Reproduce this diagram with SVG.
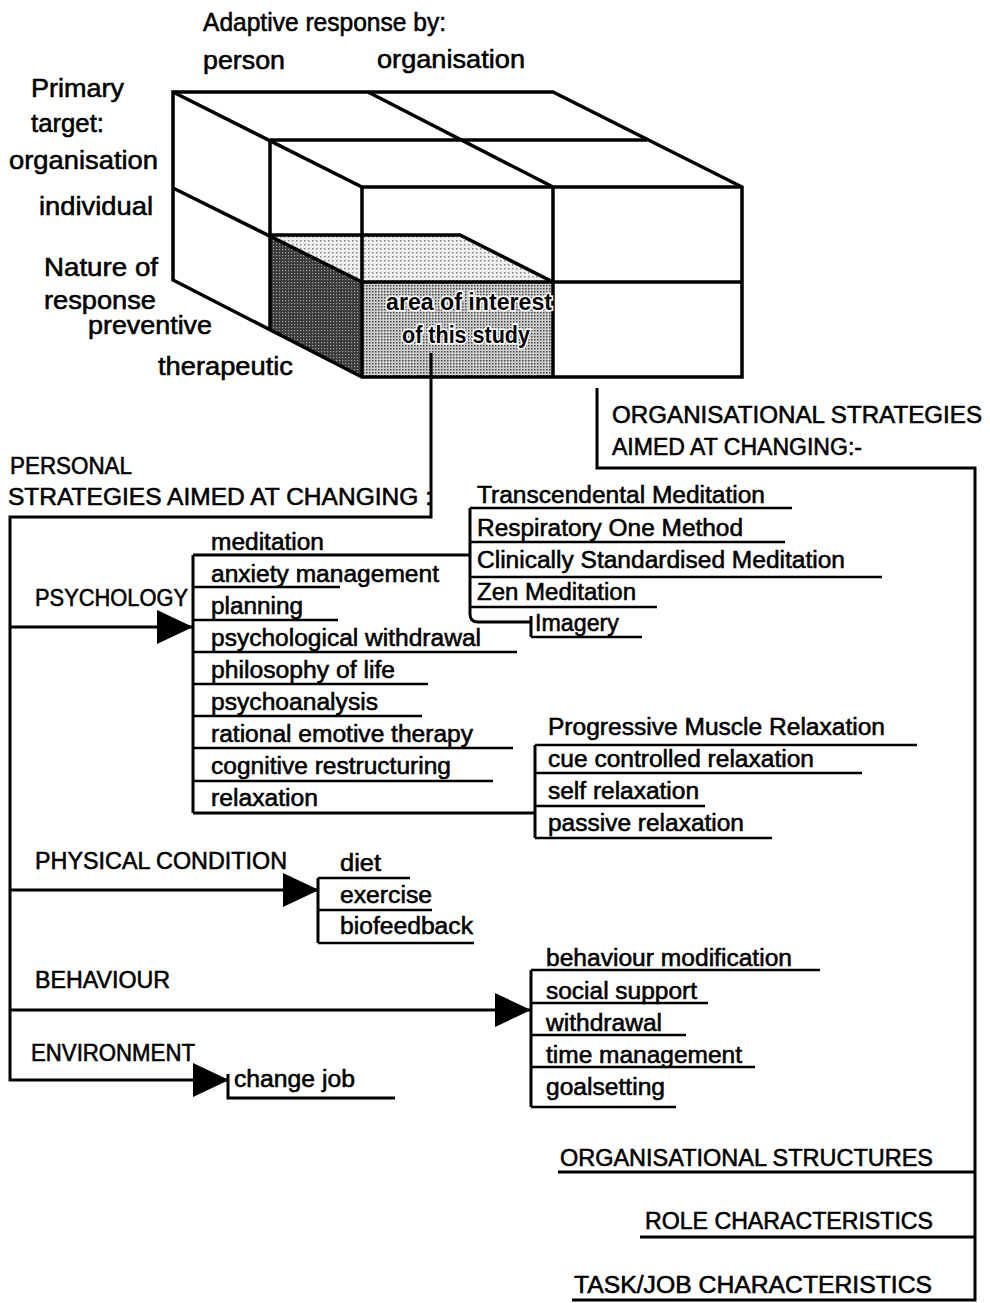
<svg xmlns="http://www.w3.org/2000/svg" width="990" height="1303" viewBox="0 0 990 1303">
  <style>
    text { font-family: "Liberation Sans", Arial, sans-serif; fill: #000; stroke: #000; stroke-width: 0.55; }
    .big { font-size: 25px; }
    .t { font-size: 23px; }
    .cap { font-size: 23px; }
    .edge { fill: none; stroke: #000; stroke-width: 3.5; stroke-linejoin: miter; }
    .ln { fill: none; stroke: #000; stroke-width: 3; }
    .ul { fill: none; stroke: #000; stroke-width: 2.6; }
    .halo { stroke: #fff; stroke-width: 3; paint-order: stroke; font-weight: bold; }
  </style>
  <defs>
    <marker id="arrow" viewBox="0 0 36 34" refX="35" refY="17" markerWidth="36" markerHeight="34" markerUnits="userSpaceOnUse" orient="auto">
      <path d="M0,0 L36,17 L0,34 Z" fill="#000"/>
    </marker>
    <pattern id="dotMid" width="3" height="3" patternUnits="userSpaceOnUse">
      <rect width="3" height="3" fill="#cfcfcf"/>
      <rect width="1.5" height="1.5" fill="#444"/>
    </pattern>
    <pattern id="dotLight" width="4" height="4" patternUnits="userSpaceOnUse">
      <rect width="4" height="4" fill="#eeeeee"/>
      <rect width="1.5" height="1.5" fill="#8a8a8a"/>
    </pattern>
    <pattern id="dotDark" width="3" height="3" patternUnits="userSpaceOnUse">
      <rect width="3" height="3" fill="#3a3a3a"/>
      <rect width="1.2" height="1.2" fill="#a0a0a0"/>
    </pattern>
  </defs>

  <rect width="990" height="1303" fill="#fff"/>

  <!-- axis labels of the cube -->
  <g id="cube-labels">
    <text class="big" x="203" y="31" textLength="243" lengthAdjust="spacingAndGlyphs">Adaptive response by:</text>
    <text class="big" x="203" y="69" textLength="82" lengthAdjust="spacingAndGlyphs">person</text>
    <text class="big" x="377" y="68" textLength="148" lengthAdjust="spacingAndGlyphs">organisation</text>
    <text class="big" x="31" y="97" textLength="93" lengthAdjust="spacingAndGlyphs">Primary</text>
    <text class="big" x="31" y="132" textLength="73" lengthAdjust="spacingAndGlyphs">target:</text>
    <text class="big" x="9" y="169" textLength="149" lengthAdjust="spacingAndGlyphs">organisation</text>
    <text class="big" x="39" y="215" textLength="114" lengthAdjust="spacingAndGlyphs">individual</text>
    <text class="big" x="44" y="276" textLength="114" lengthAdjust="spacingAndGlyphs">Nature of</text>
    <text class="big" x="44" y="309" textLength="112" lengthAdjust="spacingAndGlyphs">response</text>
    <text class="big" x="88" y="334" textLength="124" lengthAdjust="spacingAndGlyphs">preventive</text>
    <text class="big" x="158" y="375" textLength="135" lengthAdjust="spacingAndGlyphs">therapeutic</text>
  </g>

  <!-- 2x2x2 cube with the highlighted cell -->
  <g id="cube">
    <polygon points="270,235 460,235 553,282 362,282" fill="url(#dotLight)"/>
    <polygon points="270,235 362,282 362,377 270,330" fill="url(#dotDark)"/>
    <rect x="362" y="282" width="191" height="95" fill="url(#dotMid)"/>
    <path class="edge" d="M173,92 H553 L742,187 V377 H362 L173,280 Z"/>
    <path class="edge" d="M173,92 L362,187 H742"/>
    <path class="edge" d="M368,92 L553,187"/>
    <path class="edge" d="M270,140 H647"/>
    <path class="edge" d="M362,187 V377"/>
    <path class="edge" d="M553,187 V377"/>
    <path class="edge" d="M362,282 H742"/>
    <path class="edge" d="M173,188 L362,282"/>
    <path class="edge" d="M270,140 V330"/>
    <path class="edge" d="M270,235 H460 L553,282"/>
    <text class="t halo" x="386" y="310" textLength="166" lengthAdjust="spacingAndGlyphs">area of interest</text>
    <text class="t halo" x="402" y="343" textLength="128" lengthAdjust="spacingAndGlyphs">of this study</text>
  </g>

  <!-- connectors -->
  <g id="connectors">
    <path class="ln" d="M431,353 V517 H10 V1080 H228" marker-end="url(#arrow)"/>
    <path class="ln" d="M10,627 H192" marker-end="url(#arrow)"/>
    <path class="ln" d="M10,890 H318" marker-end="url(#arrow)"/>
    <path class="ln" d="M10,1010 H530" marker-end="url(#arrow)"/>
    <path class="ln" d="M597,388 V468 H975 V1300 H572"/>
    <path class="ln" d="M975,1172 H558"/>
    <path class="ln" d="M975,1237 H640"/>
  </g>

  <g id="personal-heading">
    <text class="cap" x="10" y="474" textLength="122" lengthAdjust="spacingAndGlyphs">PERSONAL</text>
    <text class="cap" x="8" y="505" textLength="424" lengthAdjust="spacingAndGlyphs">STRATEGIES AIMED AT CHANGING :</text>
  </g>

  <g id="organisational-heading">
    <text class="cap" x="612" y="423" textLength="370" lengthAdjust="spacingAndGlyphs">ORGANISATIONAL STRATEGIES</text>
    <text class="cap" x="612" y="455" textLength="250" lengthAdjust="spacingAndGlyphs">AIMED AT CHANGING:-</text>
  </g>

  <!-- psychology branch -->
  <g id="psychology">
    <text class="cap" x="35" y="606" textLength="153" lengthAdjust="spacingAndGlyphs">PSYCHOLOGY</text>
    <path class="ln" d="M193,555 V813"/>
    <path class="ln" d="M193,555 H470"/>
    <path class="ln" d="M193,813 H535"/>
    <path class="ul" d="M193,587 H340 M193,620 H338 M193,652 H517 M193,684 H428 M193,716 H422 M193,748 H513 M193,781 H493"/>
    <text class="t" x="211" y="550" textLength="113" lengthAdjust="spacingAndGlyphs">meditation</text>
    <text class="t" x="211" y="582" textLength="228" lengthAdjust="spacingAndGlyphs">anxiety management</text>
    <text class="t" x="211" y="614" textLength="92" lengthAdjust="spacingAndGlyphs">planning</text>
    <text class="t" x="211" y="646" textLength="270" lengthAdjust="spacingAndGlyphs">psychological withdrawal</text>
    <text class="t" x="211" y="678" textLength="184" lengthAdjust="spacingAndGlyphs">philosophy of life</text>
    <text class="t" x="211" y="710" textLength="167" lengthAdjust="spacingAndGlyphs">psychoanalysis</text>
    <text class="t" x="211" y="742" textLength="262" lengthAdjust="spacingAndGlyphs">rational emotive therapy</text>
    <text class="t" x="211" y="774" textLength="240" lengthAdjust="spacingAndGlyphs">cognitive restructuring</text>
    <text class="t" x="211" y="806" textLength="107" lengthAdjust="spacingAndGlyphs">relaxation</text>
  </g>

  <!-- meditation techniques -->
  <g id="meditation-types">
    <path class="ln" d="M470,508 V614 Q470,622 478,622 H531"/>
    <path class="ln" d="M531,616 V637"/>
    <path class="ul" d="M470,508 H792 M470,542 H785 M470,577 H882 M470,607 H657 M531,637 H642"/>
    <text class="t" x="477" y="503" textLength="288" lengthAdjust="spacingAndGlyphs">Transcendental Meditation</text>
    <text class="t" x="477" y="536" textLength="266" lengthAdjust="spacingAndGlyphs">Respiratory One Method</text>
    <text class="t" x="477" y="568" textLength="368" lengthAdjust="spacingAndGlyphs">Clinically Standardised Meditation</text>
    <text class="t" x="477" y="600" textLength="159" lengthAdjust="spacingAndGlyphs">Zen Meditation</text>
    <text class="t" x="535" y="631" textLength="84" lengthAdjust="spacingAndGlyphs">Imagery</text>
  </g>

  <!-- relaxation techniques -->
  <g id="relaxation-types">
    <path class="ln" d="M535,745 V838"/>
    <path class="ul" d="M535,745 H917 M535,773 H862 M535,806 H705 M535,838 H772"/>
    <text class="t" x="548" y="735" textLength="337" lengthAdjust="spacingAndGlyphs">Progressive Muscle Relaxation</text>
    <text class="t" x="548" y="767" textLength="266" lengthAdjust="spacingAndGlyphs">cue controlled relaxation</text>
    <text class="t" x="548" y="799" textLength="151" lengthAdjust="spacingAndGlyphs">self relaxation</text>
    <text class="t" x="548" y="831" textLength="196" lengthAdjust="spacingAndGlyphs">passive relaxation</text>
  </g>

  <!-- physical condition branch -->
  <g id="physical-condition">
    <text class="cap" x="35" y="869" textLength="252" lengthAdjust="spacingAndGlyphs">PHYSICAL CONDITION</text>
    <path class="ln" d="M318,878 V943"/>
    <path class="ul" d="M318,878 H410 M318,910 H432 M318,943 H474"/>
    <text class="t" x="340" y="871" textLength="41" lengthAdjust="spacingAndGlyphs">diet</text>
    <text class="t" x="340" y="903" textLength="92" lengthAdjust="spacingAndGlyphs">exercise</text>
    <text class="t" x="340" y="934" textLength="133" lengthAdjust="spacingAndGlyphs">biofeedback</text>
  </g>

  <!-- behaviour branch -->
  <g id="behaviour">
    <text class="cap" x="35" y="988" textLength="135" lengthAdjust="spacingAndGlyphs">BEHAVIOUR</text>
    <path class="ln" d="M531,970 V1107"/>
    <path class="ul" d="M531,970 H820 M531,1003 H708 M531,1035 H686 M531,1067 H755 M531,1107 H676"/>
    <text class="t" x="546" y="966" textLength="246" lengthAdjust="spacingAndGlyphs">behaviour modification</text>
    <text class="t" x="546" y="999" textLength="151" lengthAdjust="spacingAndGlyphs">social support</text>
    <text class="t" x="546" y="1031" textLength="116" lengthAdjust="spacingAndGlyphs">withdrawal</text>
    <text class="t" x="546" y="1063" textLength="196" lengthAdjust="spacingAndGlyphs">time management</text>
    <text class="t" x="546" y="1095" textLength="119" lengthAdjust="spacingAndGlyphs">goalsetting</text>
  </g>

  <!-- environment branch -->
  <g id="environment">
    <text class="cap" x="31" y="1061" textLength="164" lengthAdjust="spacingAndGlyphs">ENVIRONMENT</text>
    <path class="ln" d="M228,1074 V1098 H395"/>
    <text class="t" x="234" y="1087" textLength="121" lengthAdjust="spacingAndGlyphs">change job</text>
  </g>

  <!-- organisational targets -->
  <g id="organisational-targets">
    <text class="cap" x="560" y="1166" textLength="373" lengthAdjust="spacingAndGlyphs">ORGANISATIONAL STRUCTURES</text>
    <text class="cap" x="645" y="1229" textLength="288" lengthAdjust="spacingAndGlyphs">ROLE CHARACTERISTICS</text>
    <text class="cap" x="574" y="1293" textLength="358" lengthAdjust="spacingAndGlyphs">TASK/JOB CHARACTERISTICS</text>
  </g>
</svg>
